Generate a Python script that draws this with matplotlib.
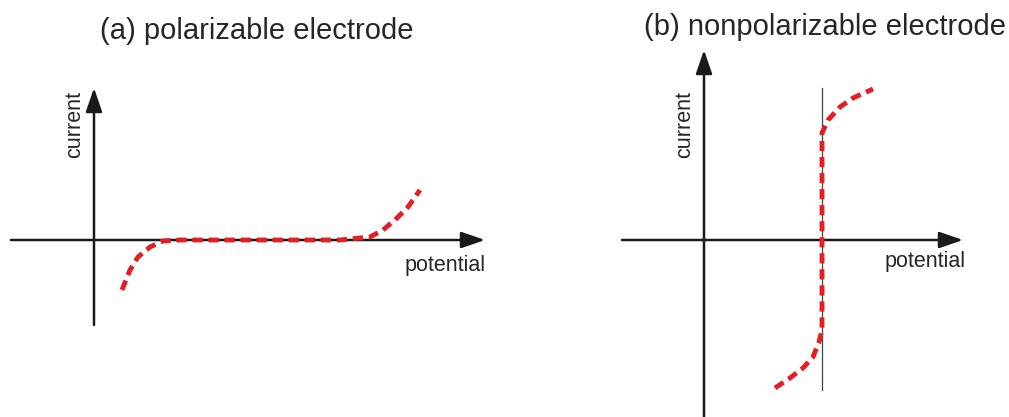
import matplotlib
matplotlib.use("Agg")
import matplotlib.pyplot as plt

plt.rcParams['font.family'] = ['Liberation Sans', 'DejaVu Sans']

# Sketch curves (arbitrary units: potential on x, current on y)
polar_potential = [28, 36, 44, 56, 69, 86, 120, 160, 200, 246, 276, 289, 303, 314, 326]
polar_current = [-50, -30, -17, -7, -1, 0, 0, 0, 0, 0, 3, 10, 22, 33, 50]

nonpolar_potential = [71, 86, 99, 109, 115, 118, 118, 118, 124, 136, 149, 169]
nonpolar_current = [-148, -138, -128, -117, -102, -90, 0, 107, 120, 133, 142, 151]
equilibrium_potential = 118
equilibrium_span = [-150, 152]

titles = ["(a) polarizable electrode", "(b) nonpolarizable electrode"]
xlabel = "potential"
ylabel = "current"

W, H = 1009, 417
fig = plt.figure(figsize=(W / 100, H / 100), dpi=100)

axA = fig.add_axes([0, 0, 505 / W, 1])
axA.set_xlim(-94, 411)
axA.set_ylim(-177, 240)
axB = fig.add_axes([505 / W, 0, 504 / W, 1])
axB.set_xlim(-199, 305)
axB.set_ylim(-177, 240)

axis_color = "#1a1a1a"
red = "#e31e24"
text_color = "#262626"


def draw_axes(ax, x0, x1, y0, y1):
    arrow = dict(arrowstyle="-|>,head_length=1.45,head_width=0.5",
                 color=axis_color, lw=1.8, shrinkA=0, shrinkB=0)
    ax.annotate("", xy=(x1, 0), xytext=(x0, 0), arrowprops=arrow)
    ax.annotate("", xy=(0, y1), xytext=(0, y0), arrowprops=arrow)


draw_axes(axA, -83, 391, -85, 152)
draw_axes(axB, -82, 259, -180, 190)

axB.plot([equilibrium_potential, equilibrium_potential], equilibrium_span,
         color="#444444", lw=0.9, zorder=2)

dash = (0, (2.1, 1.2))
axA.plot(polar_potential, polar_current, color=red, lw=3.5, linestyle=dash,
         dash_capstyle="butt", zorder=3)
axB.plot(nonpolar_potential, nonpolar_current, color=red, lw=3.5, linestyle=dash,
         dash_capstyle="butt", zorder=3)

label_kw = dict(fontsize=15.5, color=text_color)
axA.text(-19, 116, ylabel, rotation=90, ha="center", va="center", **label_kw)
axB.text(-19, 116, ylabel, rotation=90, ha="center", va="center", **label_kw)
axA.text(351, -25, xlabel, ha="center", va="center", **label_kw)
axB.text(221, -21, xlabel, ha="center", va="center", **label_kw)

axA.text(163, 209, titles[0], ha="center", va="center", fontsize=21, color=text_color)
axB.text(121, 213, titles[1], ha="center", va="center", fontsize=21, color=text_color)

for ax in (axA, axB):
    ax.axis("off")

fig.savefig("out.png", dpi=100)
